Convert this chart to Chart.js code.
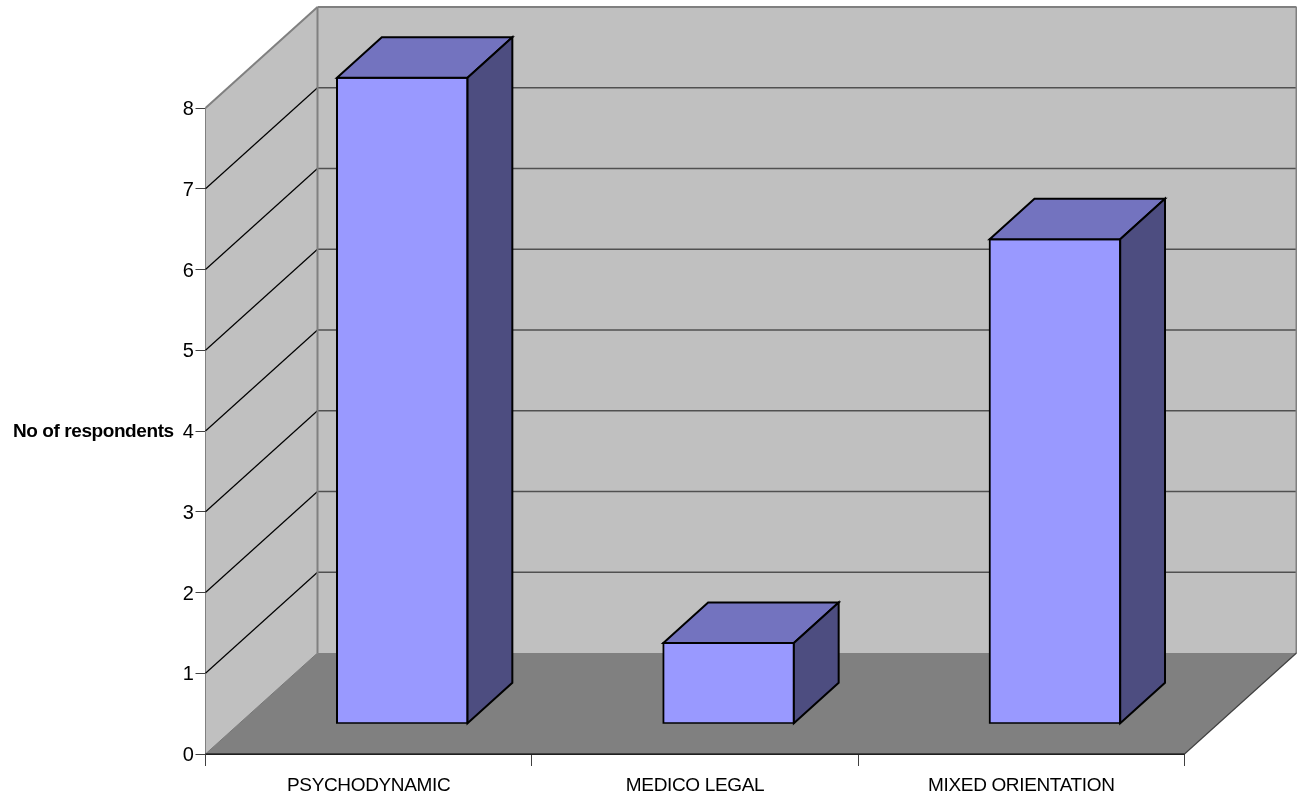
<!DOCTYPE html>
<html>
<head>
<meta charset="utf-8">
<style>
html, body { margin: 0; padding: 0; background: #ffffff; }
#wrap { position: relative; width: 1297px; height: 801px; }
</style>
<script src="https://cdn.jsdelivr.net/npm/chart.js@4"></script>
</head>
<body>
<div id="wrap"><canvas id="chart" width="1297" height="801"></canvas></div>
<script>
const categories = ['PSYCHODYNAMIC', 'MEDICO LEGAL', 'MIXED ORIENTATION'];
const respondents = [8, 1, 6];
const yTicks = [0, 1, 2, 3, 4, 5, 6, 7, 8];
const yAxisLabel = 'No of respondents';

// Oblique projection of the depth axis, in pixels, for the full floor depth.
const DEPTH_X = 112;
const DEPTH_Y = 101;
// The columns sit between these fractions of the floor depth.
const BAR_NEAR = 0.3;
const BAR_FAR = 0.7;

const WALL = '#C0C0C0';
const FLOOR = '#808080';
const EDGE = '#808080';
const BAR_FRONT = '#9999FF';
const BAR_TOP = '#7373BF';
const BAR_SIDE = '#4D4D80';
const FONT = '"Liberation Sans", Arial, sans-serif';

function poly(ctx, pts, fill, stroke, width) {
  ctx.beginPath();
  pts.forEach((p, i) => (i ? ctx.lineTo(p[0], p[1]) : ctx.moveTo(p[0], p[1])));
  ctx.closePath();
  if (fill) { ctx.fillStyle = fill; ctx.fill(); }
  if (stroke) { ctx.strokeStyle = stroke; ctx.lineWidth = width; ctx.lineJoin = 'miter'; ctx.stroke(); }
}

function seg(ctx, x1, y1, x2, y2, color, width) {
  ctx.beginPath();
  ctx.moveTo(x1, y1);
  ctx.lineTo(x2, y2);
  ctx.strokeStyle = color;
  ctx.lineWidth = width;
  ctx.stroke();
}

// Draws walls, floor and gridlines behind the columns, and the extruded
// top and side faces of each column around the library's own bar rectangles.
const box3d = {
  id: 'box3d',
  beforeDraw(chart) {
    // Tight tracking for the axis text
    chart.ctx.letterSpacing = '-0.35px';
    // Nudge the value labels down onto their tick marks
    if (!chart.$labelsNudged) {
      chart.scales.y.getLabelItems(chart.chartArea).forEach(item => {
        item.options.translation[1] += 1.5;
      });
      chart.$labelsNudged = true;
    }
  },
  beforeDatasetsDraw(chart) {
    const { ctx, scales: { x, y } } = chart;
    const l = x.left, r = x.right, t = y.top, b = y.bottom;
    ctx.save();
    poly(ctx, [[l + DEPTH_X, t - DEPTH_Y], [r + DEPTH_X, t - DEPTH_Y], [r + DEPTH_X, b - DEPTH_Y], [l + DEPTH_X, b - DEPTH_Y]], WALL);
    poly(ctx, [[l, t], [l + DEPTH_X, t - DEPTH_Y], [l + DEPTH_X, b - DEPTH_Y], [l, b]], WALL);
    poly(ctx, [[l, b], [l + DEPTH_X, b - DEPTH_Y], [r + DEPTH_X, b - DEPTH_Y], [r, b]], FLOOR);

    yTicks.forEach(v => {
      if (v === 0) return;
      const py = y.getPixelForValue(v);
      if (v < yTicks[yTicks.length - 1]) {
        seg(ctx, l, py, l + DEPTH_X, py - DEPTH_Y, '#000000', 1.2);
        seg(ctx, l + DEPTH_X, py - DEPTH_Y, r + DEPTH_X, py - DEPTH_Y, '#505050', 1.5);
      }
    });

    // Wall outlines
    seg(ctx, l, t, l + DEPTH_X, t - DEPTH_Y, EDGE, 2);
    seg(ctx, l + DEPTH_X, t - DEPTH_Y, r + DEPTH_X, t - DEPTH_Y, EDGE, 2);
    seg(ctx, r + DEPTH_X, t - DEPTH_Y, r + DEPTH_X, b - DEPTH_Y, EDGE, 2);
    seg(ctx, l + DEPTH_X, t - DEPTH_Y, l + DEPTH_X, b - DEPTH_Y, EDGE, 2);
    seg(ctx, l, b, l + DEPTH_X, b - DEPTH_Y, '#777777', 1);
    seg(ctx, r, b, r + DEPTH_X, b - DEPTH_Y, '#404040', 1.2);
    ctx.restore();
  },
  beforeDatasetDraw(chart) {
    const { ctx } = chart;
    ctx.save();
    ctx.translate(DEPTH_X * BAR_NEAR, -DEPTH_Y * BAR_NEAR);
  },
  afterDatasetDraw(chart, args) {
    const { ctx } = chart;
    const dx = DEPTH_X * (BAR_FAR - BAR_NEAR);
    const dy = DEPTH_Y * (BAR_FAR - BAR_NEAR);
    chart.getDatasetMeta(args.index).data.forEach(bar => {
      const x0 = bar.x - bar.width / 2, x1 = bar.x + bar.width / 2;
      const top = bar.y, base = bar.base;
      poly(ctx, [[x0, top], [x0 + dx, top - dy], [x1 + dx, top - dy], [x1, top]], BAR_TOP, '#000000', 2);
      poly(ctx, [[x1, top], [x1 + dx, top - dy], [x1 + dx, base - dy], [x1, base]], BAR_SIDE, '#000000', 2);
    });
    ctx.restore();
  },
  afterDraw(chart) {
    const { ctx, scales: { x, y } } = chart;
    ctx.save();
    seg(ctx, x.left, y.bottom, x.right, y.bottom, '#000000', 1);
    ctx.fillStyle = '#000000';
    ctx.font = 'bold 19px ' + FONT;
    ctx.letterSpacing = '-0.42px';
    ctx.textAlign = 'left';
    ctx.textBaseline = 'middle';
    ctx.fillText(yAxisLabel, 13, y.getPixelForValue(4) + 0.5);
    ctx.restore();
  }
};

new Chart(document.getElementById('chart'), {
  type: 'bar',
  data: {
    labels: categories,
    datasets: [{
      data: respondents,
      backgroundColor: BAR_FRONT,
      borderColor: '#000000',
      borderWidth: 2,
      borderSkipped: false,
      inflateAmount: 1,
      barPercentage: 0.4,
      categoryPercentage: 1
    }]
  },
  plugins: [box3d],
  options: {
    responsive: false,
    animation: false,
    layout: { padding: { top: 108, right: 112.5, left: 0, bottom: 0 } },
    plugins: { legend: { display: false }, title: { display: false }, tooltip: { enabled: false } },
    scales: {
      x: {
        offset: true,
        afterFit: s => { s.height = 47; },
        border: { display: true, color: '#404040', width: 1 },
        grid: { display: true, drawOnChartArea: false, drawTicks: true, tickLength: 12, color: '#404040', offset: true },
        ticks: {
          color: '#000000',
          padding: 8,
          maxRotation: 0,
          autoSkip: false,
          font: { family: FONT, size: 19 }
        }
      },
      y: {
        min: 0,
        max: 8,
        afterFit: s => { s.width = 205.5; },
        afterBuildTicks: s => { s.ticks = yTicks.map(v => ({ value: v })); },
        border: { display: true, color: '#404040', width: 1 },
        grid: { display: true, drawOnChartArea: false, drawTicks: true, tickLength: 10, color: '#404040' },
        ticks: {
          color: '#000000',
          padding: 2,
          font: { family: FONT, size: 20 }
        }
      }
    }
  }
});
</script>
</body>
</html>
